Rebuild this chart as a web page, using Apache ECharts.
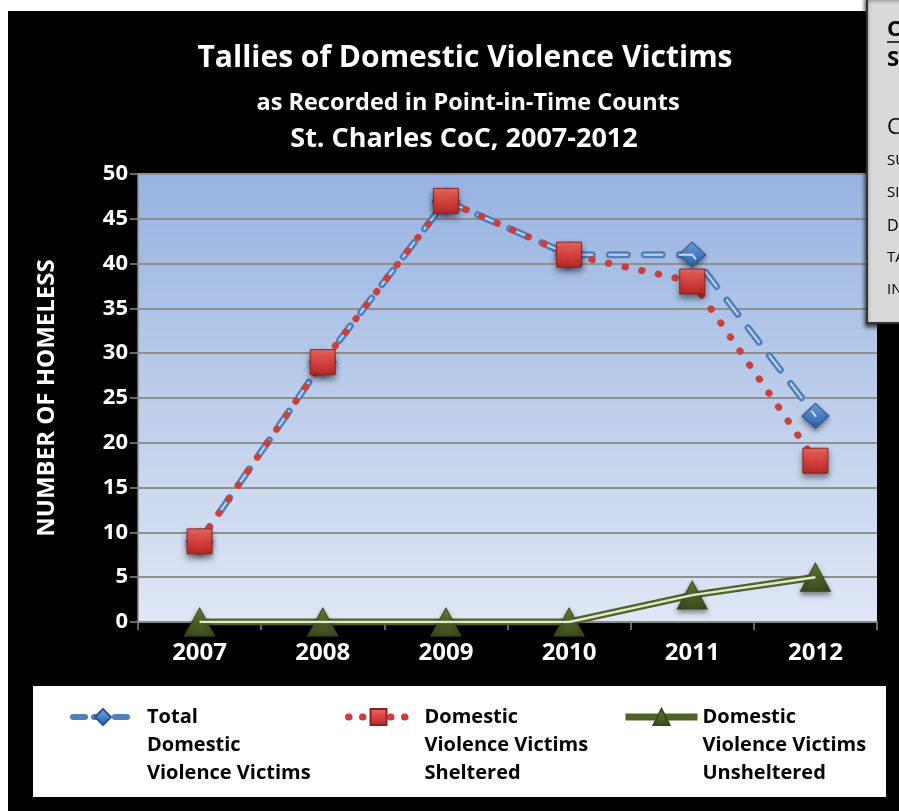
<!DOCTYPE html>
<html>
<head>
<meta charset="utf-8">
<script src="https://cdn.jsdelivr.net/npm/echarts@6/dist/echarts.min.js"></script>
<style>
html,body{margin:0;padding:0;background:#fff;}
#chart{width:899px;height:811px;}
</style>
</head>
<body>
<div id="chart"></div>
<script>
const years = ['2007', '2008', '2009', '2010', '2011', '2012'];
const totalVictims = [9, 29, 47, 41, 41, 23];
const shelteredVictims = [9, 29, 47, 41, 38, 18];
const unshelteredVictims = [0, 0, 0, 0, 3, 5];
const seriesNames = [
  'Total\nDomestic\nViolence Victims',
  'Domestic\nViolence Victims\nSheltered',
  'Domestic\nViolence Victims\nUnsheltered'
];
const titleLines = ['Tallies of Domestic Violence Victims', 'as Recorded in Point-in-Time Counts', 'St. Charles CoC, 2007-2012'];
const yAxisTitle = 'NUMBER OF HOMELESS';
const sideBoxTexts = ['C', 'S', 'C', 'SU', 'SI', 'D', 'TA', 'IN'];

const FONT = '"Open Sans", Lato, sans-serif';
const chart = echarts.init(document.getElementById('chart'), null, {renderer: 'canvas'});

function lg(stops) {
  return new echarts.graphic.LinearGradient(0, 0, 0, 1, stops.map((c, i) => ({offset: i / (stops.length - 1), color: c})));
}

const legendText = {
  color: '#000', fontFamily: FONT, fontWeight: 'bold', fontSize: 20, lineHeight: 28
};
const legendFormatter = name => '\n\n' + name;

const sideY = [30, 60, 128, 161, 193, 226, 258, 290];
const sideSize = [22, 22, 22, 15, 15, 16, 15, 15];
const sideBold = [true, true, false, false, false, false, false, false];

const graphics = [
  {type: 'rect', shape: {x: 0, y: 0, width: 899, height: 11}, style: {fill: '#fff'}, z: 100},
  {type: 'rect', shape: {x: 0, y: 0, width: 8, height: 811}, style: {fill: '#fff'}, z: 100},
  {type: 'rect', shape: {x: 33, y: 686, width: 853, height: 111}, style: {fill: '#fff'}, z: -10, silent: true},
  {type: 'rect', shape: {x: 867, y: -4, width: 40, height: 327}, style: {fill: '#d9d9d9', stroke: '#333', lineWidth: 2, shadowBlur: 4, shadowOffsetX: -1, shadowOffsetY: 3, shadowColor: 'rgba(0,0,0,0.7)'}, z: 101},
  {type: 'line', shape: {x1: 887, y1: 42, x2: 899, y2: 42}, style: {stroke: '#000', lineWidth: 1.5}, z: 102}
];
sideBoxTexts.forEach((t, i) => {
  graphics.push({
    type: 'text', x: 887, y: sideY[i], z: 102,
    style: {text: t, fill: '#000', font: (sideBold[i] ? 'bold ' : '') + sideSize[i] + 'px ' + FONT, verticalAlign: 'middle', align: 'left'}
  });
});

const option = {
  backgroundColor: '#000',
  animation: false,
  title: [
    {text: titleLines[0], left: 460, top: 38, textAlign: 'center', textStyle: {color: '#fff', fontFamily: FONT, fontWeight: 'bold', fontSize: 30}},
    {text: titleLines[1], left: 463, top: 86, textAlign: 'center', textStyle: {color: '#fff', fontFamily: FONT, fontWeight: 'bold', fontSize: 23.5}},
    {text: titleLines[2], left: 459, top: 121, textAlign: 'center', textStyle: {color: '#fff', fontFamily: FONT, fontWeight: 'bold', fontSize: 27}}
  ],
  grid: {
    left: 138, right: 22, top: 174, bottom: 189,
    show: true, borderWidth: 0,
    backgroundColor: lg(['#97b3e2', '#bccdea', '#dfe7f5'])
  },
  xAxis: {
    type: 'category', data: years, boundaryGap: true,
    axisLine: {lineStyle: {color: '#8a8a8a', width: 1.5}},
    axisTick: {show: true, length: 8, lineStyle: {color: '#8a8a8a', width: 1.5}},
    axisLabel: {color: '#fff', fontFamily: FONT, fontWeight: 'bold', fontSize: 24, margin: 19},
    splitLine: {show: false}
  },
  yAxis: {
    type: 'value', min: 0, max: 50, interval: 5,
    name: yAxisTitle, nameLocation: 'middle', nameGap: 79, nameRotate: 90,
    nameTextStyle: {color: '#fff', fontFamily: FONT, fontWeight: 'bold', fontSize: 24},
    axisLine: {show: true, lineStyle: {color: '#8a8a8a', width: 1.5}},
    axisTick: {show: true, length: 8, lineStyle: {color: '#8a8a8a', width: 1.5}},
    axisLabel: {color: '#fff', fontFamily: FONT, fontWeight: 'bold', fontSize: 22, margin: 10},
    splitLine: {show: true, lineStyle: {color: '#8f8f8f', width: 2}}
  },
  legend: [
    {data: [seriesNames[0]], left: 70, top: 647, itemWidth: 60, itemHeight: 20, padding: 0, formatter: legendFormatter,
     lineStyle: {width: 6, type: [12, 9], cap: 'round'},
     textStyle: Object.assign({padding: [0, 0, 0, 9]}, legendText)},
    {data: [seriesNames[1]], left: 345, top: 647, itemWidth: 60, itemHeight: 20, padding: 0, formatter: legendFormatter,
     lineStyle: {width: 7, type: [0.5, 13.5], cap: 'round'},
     textStyle: Object.assign({padding: [0, 0, 0, 11]}, legendText)},
    {data: [seriesNames[2]], left: 622, top: 647, itemWidth: 72, itemHeight: 20, padding: 0, formatter: legendFormatter,
     lineStyle: {width: 7},
     textStyle: Object.assign({padding: [0, 0, 0, 0]}, legendText)}
  ],
  graphic: graphics,
  series: [
    {
      name: seriesNames[2], type: 'line', data: unshelteredVictims, z: 3,
      symbol: 'triangle', symbolSize: [30, 28],
      lineStyle: {color: '#4f6228', width: 7},
      itemStyle: {color: lg(['#6e8c3a', '#4f6228', '#3b4a1d']), borderColor: '#3b4a1d', borderWidth: 1, shadowBlur: 5, shadowOffsetY: 3, shadowColor: 'rgba(0,0,0,0.45)'}
    },
    {
      name: '_unshelteredInner', type: 'line', data: unshelteredVictims, z: 4,
      symbol: 'none', silent: true,
      lineStyle: {color: '#dfe7cf', width: 2.5}
    },
    {
      name: seriesNames[0], type: 'line', data: totalVictims, z: 5,
      symbol: 'diamond', symbolSize: [27, 25],
      lineStyle: {color: '#4f81bd', width: 7, type: [18, 17], cap: 'round'},
      itemStyle: {color: lg(['#7aa9e4', '#4a80c6', '#2b5c9c']), borderColor: '#2a5690', borderWidth: 1, shadowBlur: 5, shadowOffsetY: 3, shadowColor: 'rgba(0,0,0,0.4)'}
    },
    {
      name: '_totalInner', type: 'line', data: totalVictims, z: 6,
      symbol: 'none', silent: true,
      lineStyle: {color: '#c6d9f1', width: 2, type: [18, 17], cap: 'round'}
    },
    {
      name: seriesNames[1], type: 'line', data: shelteredVictims, z: 7,
      symbol: 'rect', symbolSize: 25,
      lineStyle: {color: '#c8413e', width: 7, type: [0.5, 16.5], cap: 'round'},
      itemStyle: {color: lg(['#ee6b66', '#d9423e', '#b02a27']), borderColor: '#8c2220', borderWidth: 1, shadowBlur: 6, shadowOffsetY: 4, shadowColor: 'rgba(0,0,0,0.45)'}
    }
  ]
};
chart.setOption(option);
</script>
</body>
</html>
